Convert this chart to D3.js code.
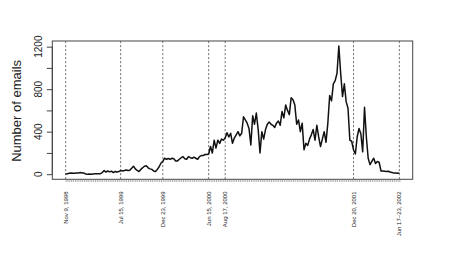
<!DOCTYPE html>
<html>
<head>
<meta charset="utf-8">
<script src="https://cdn.jsdelivr.net/npm/d3@7"></script>
<style>
  body { margin: 0; background: #fff; }
  text { font-family: "Liberation Sans", Arial, sans-serif; fill: #222; }
</style>
</head>
<body>
<svg width="455" height="263"></svg>
<script>
// weekly email counts, one value per week index
const emails = [
  0, 5, 8, 10, 8, 8, 10, 12, 15, 12,
  10, 2, 0, 2, 0, 2, 3, 3, 5, 5,
  15, 34, 20, 30, 22, 28, 15, 25, 20, 25,
  34, 30, 34, 40, 35, 38, 55, 75, 50, 35,
  25, 45, 60, 75, 80, 60, 50, 45, 30, 25,
  45, 70, 105, 120, 150, 140, 148, 140, 150, 145,
  125, 125, 140, 155, 165, 145, 140, 165, 155, 150,
  160, 150, 140, 165, 175, 175, 185, 185, 190, 260,
  200, 320, 245, 320, 290, 330, 320, 340, 390, 350,
  385, 290, 340, 370, 400, 360, 385, 540, 510, 480,
  430, 275, 550, 470, 575, 420, 200, 400, 330, 420,
  470, 490, 470, 460, 440, 480, 500, 460, 590, 530,
  650, 600, 560, 720, 700, 650, 470, 510, 400, 480,
  230, 290, 270, 330, 370, 420, 320, 460, 350, 260,
  330, 400, 300, 480, 740, 690, 850, 880, 950, 1205,
  950, 730, 850, 680, 620, 320, 310, 230, 190, 350,
  430, 380, 210, 630, 350, 150, 90, 120, 150, 100,
  120, 110, 30, 30, 28, 25, 28, 20, 15, 10,
  12, 8, 10
];

// marked events: week index and label
const eventWeeks = [0, 30, 53, 78, 87, 157, 182];
const eventLabels = ["Nov 9, 1998", "Jul 15, 1999", "Dec 23, 1999", "Jun 15, 2000",
  "Aug 17, 2000", "Dec 20, 2001", "Jun 17\u201323, 2002"];

const yTicks = [0, 200, 400, 600, 800, 1000, 1200];
const yTickLabels = ["0", "", "400", "", "800", "", "1200"];

const svg = d3.select("svg");
const plot = { left: 52.3, right: 412.7, top: 41, bottom: 179.3 };

// R style 4% padding on both axes
const pad = (lo, hi) => [lo - (hi - lo) * 0.04, hi + (hi - lo) * 0.04];

const xScale = d3.scaleLinear()
  .domain(pad(0, emails.length - 1))
  .range([plot.left, plot.right]);

const yScale = d3.scaleLinear()
  .domain(pad(0, d3.max(emails)))
  .range([plot.bottom, plot.top]);

// dashed event lines
svg.append("g")
  .selectAll("line")
  .data(eventWeeks)
  .join("line")
  .attr("x1", (d) => xScale(d))
  .attr("x2", (d) => xScale(d))
  .attr("y1", plot.top)
  .attr("y2", plot.bottom)
  .attr("stroke", "#555")
  .attr("stroke-width", 0.8)
  .attr("stroke-dasharray", "2.2,1.8");

// data line
const line = d3.line()
  .x((d, i) => xScale(i))
  .y((d) => yScale(d));

svg.append("path")
  .datum(emails)
  .attr("d", line)
  .attr("fill", "none")
  .attr("stroke", "#111")
  .attr("stroke-width", 1.5)
  .attr("stroke-linejoin", "round");

// frame
svg.append("rect")
  .attr("x", plot.left)
  .attr("y", plot.top)
  .attr("width", plot.right - plot.left)
  .attr("height", plot.bottom - plot.top)
  .attr("fill", "none")
  .attr("stroke", "#444")
  .attr("stroke-width", 1);

// y axis
const yAxis = d3.axisLeft(yScale)
  .tickValues(yTicks)
  .tickSize(5.5)
  .tickFormat(() => "");

const yAxisG = svg.append("g")
  .attr("transform", `translate(${plot.left},0)`)
  .call(yAxis);
yAxisG.select(".domain")
  .attr("d", `M0,${yScale(0)}V${yScale(1200)}`)
  .attr("stroke", "#444");
yAxisG.selectAll(".tick line").attr("stroke", "#444");

svg.append("g")
  .selectAll("text")
  .data(yTicks)
  .join("text")
  .attr("transform", (d) => `translate(42,${yScale(d)}) rotate(-90)`)
  .attr("text-anchor", "middle")
  .attr("font-size", 10)
  .text((d, i) => yTickLabels[i]);

// y axis title
svg.append("text")
  .attr("transform", `translate(20.5,${(yScale(0) + yScale(1200)) / 2 + 0.5}) rotate(-90)`)
  .attr("text-anchor", "middle")
  .attr("font-size", 13)
  .text("Number of emails");

// x axis: one small tick per week
const xAxis = d3.axisBottom(xScale)
  .tickValues(d3.range(emails.length))
  .tickSize(2.7)
  .tickFormat(() => "");

const xAxisG = svg.append("g")
  .attr("transform", `translate(0,${plot.bottom})`)
  .call(xAxis);
xAxisG.select(".domain").remove();
xAxisG.selectAll(".tick line").attr("stroke", "#777").attr("stroke-width", 0.6);

// event labels
svg.append("g")
  .selectAll("text")
  .data(eventWeeks)
  .join("text")
  .attr("transform", (d) => `translate(${xScale(d) + 2.1},191.5) rotate(-90)`)
  .attr("text-anchor", "end")
  .attr("font-size", 6)
  .text((d, i) => eventLabels[i]);
</script>
</body>
</html>
